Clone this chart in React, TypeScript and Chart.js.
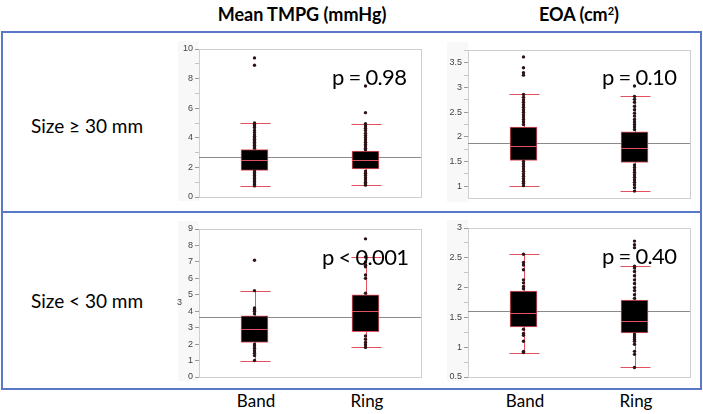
import React, { useEffect, useRef } from 'react';
import { Chart, registerables } from 'chart.js';
Chart.register(...registerables);

const CATEGORIES = ['Band', 'Ring'];

// ---- Mean TMPG (mmHg), Size >= 30 mm ----
const TMPG_L_BOX = [[1.8, 3.2], [1.9, 3.1]];
const TMPG_L_MEDIAN = [2.5, 2.5];
const TMPG_L_WHISKER = [[0.75, 5.0], [0.8, 4.95]];
const TMPG_L_MEAN = 2.67;
const TMPG_L_BAND_PTS = [0.75, 0.85, 0.95, 1.05, 1.15, 1.25, 1.35, 1.45, 1.55, 1.65, 1.75, 3.3, 3.4, 3.5, 3.6, 3.7, 3.8, 3.9, 4.0, 4.1, 4.2, 4.35, 4.5, 4.7, 4.8, 4.9, 5.0, 8.9, 9.4];
const TMPG_L_RING_PTS = [0.8, 0.9, 1.0, 1.15, 1.3, 1.45, 1.6, 1.75, 3.2, 3.3, 3.45, 3.55, 3.7, 3.85, 4.0, 4.15, 4.3, 4.5, 4.65, 4.8, 4.95, 5.7, 7.5];
const TMPG_L_TICKS = [0, 1, 2, 3, 4, 5, 6, 7, 8, 9, 10];
const TMPG_L_LABELS = [0, 2, 4, 6, 8, 10];

// ---- EOA (cm2), Size >= 30 mm ----
const EOA_L_BOX = [[1.52, 2.2], [1.48, 2.1]];
const EOA_L_MEDIAN = [1.81, 1.77];
const EOA_L_WHISKER = [[1.01, 2.86], [0.9, 2.82]];
const EOA_L_MEAN = 1.88;
const EOA_L_BAND_PTS = [1.01, 1.06, 1.1, 1.15, 1.2, 1.25, 1.3, 1.35, 1.4, 1.45, 1.5, 2.25, 2.3, 2.35, 2.4, 2.45, 2.5, 2.55, 2.6, 2.65, 2.7, 2.75, 2.8, 2.86, 3.25, 3.3, 3.4, 3.62];
const EOA_L_RING_PTS = [0.9, 0.97, 1.03, 1.08, 1.13, 1.18, 1.23, 1.28, 1.33, 1.38, 1.43, 2.15, 2.2, 2.25, 2.3, 2.35, 2.42, 2.48, 2.55, 2.62, 2.7, 2.76, 2.82, 3.03];
const EOA_L_TICKS = [1, 1.25, 1.5, 1.75, 2, 2.25, 2.5, 2.75, 3, 3.25, 3.5, 3.75];
const EOA_L_LABELS = [1, 1.5, 2, 2.5, 3, 3.5];

// ---- Mean TMPG (mmHg), Size < 30 mm ----
const TMPG_S_BOX = [[2.1, 3.72], [2.75, 5.0]];
const TMPG_S_MEDIAN = [2.9, 4.02];
const TMPG_S_WHISKER = [[1.0, 5.25], [1.8, 7.3]];
const TMPG_S_MEAN = 3.65;
const TMPG_S_BAND_PTS = [1.0, 1.3, 1.45, 1.6, 1.75, 1.9, 2.0, 3.85, 4.0, 4.1, 4.2, 5.25, 7.1];
const TMPG_S_RING_PTS = [1.8, 1.95, 2.1, 2.3, 2.5, 5.1, 6.0, 6.2, 6.7, 6.8, 7.0, 7.3, 8.4];
const TMPG_S_TICKS = [0, 1, 2, 3, 4, 5, 6, 7, 8, 9];
const TMPG_S_LABELS = [0, 1, 2, 3, 4, 5, 6, 7, 8, 9];

// ---- EOA (cm2), Size < 30 mm ----
const EOA_S_BOX = [[1.34, 1.94], [1.24, 1.79]];
const EOA_S_MEDIAN = [1.58, 1.44];
const EOA_S_WHISKER = [[0.91, 2.56], [0.66, 2.36]];
const EOA_S_MEAN = 1.6;
const EOA_S_BAND_PTS = [0.91, 0.93, 1.1, 1.2, 1.23, 1.3, 1.98, 2.02, 2.08, 2.13, 2.3, 2.38, 2.42, 2.56];
const EOA_S_RING_PTS = [0.66, 0.88, 0.93, 1.05, 1.1, 1.13, 1.16, 1.19, 1.22, 1.82, 1.88, 1.95, 2.0, 2.07, 2.13, 2.2, 2.27, 2.33, 2.36, 2.67, 2.72, 2.78];
const EOA_S_TICKS = [0.5, 0.75, 1, 1.25, 1.5, 1.75, 2, 2.25, 2.5, 2.75, 3];
const EOA_S_LABELS = [0.5, 1, 1.5, 2, 2.5, 3];

const RED = '#e4505e';
const DOT = '#2b1418';
const BLUE = '#5a78c8';

type PanelProps = {
  canvasRect: number[]; // x, y, w, h
  plotRect: number[]; // left, top, right, bottom
  yMin: number;
  yMax: number;
  ticks: number[];
  labels: number[];
  box: number[][];
  median: number[];
  whisker: number[][];
  mean: number;
  bandPts: number[];
  ringPts: number[];
};

function Panel(p: PanelProps) {
  const ref = useRef<HTMLCanvasElement>(null);
  const [cx, cy, cw, ch] = p.canvasRect;
  const [pl, pt, pr, pb] = p.plotRect;
  useEffect(() => {
    if (!ref.current) return;
    const extras = {
      id: 'boxExtras',
      beforeDraw(chart: any) {
        const ctx = chart.ctx;
        const a = chart.chartArea;
        ctx.save();
        ctx.fillStyle = '#f8f8f8';
        ctx.fillRect(a.left - 21, a.top - 8, 21, chart.height - a.top + 8);
        ctx.restore();
      },
      beforeDatasetsDraw(chart: any) {
        const ctx = chart.ctx;
        const a = chart.chartArea;
        const xs = chart.scales.x;
        const ys = chart.scales.y;
        ctx.save();
        ctx.strokeStyle = '#cfcfcf';
        ctx.lineWidth = 1;
        ctx.strokeRect(Math.round(a.left) + 0.5, Math.round(a.top) + 0.5, Math.round(a.right - a.left), Math.round(a.bottom - a.top));
        const my = Math.round(ys.getPixelForValue(p.mean)) + 0.5;
        ctx.strokeStyle = '#8a8a8a';
        ctx.beginPath();
        ctx.moveTo(a.left, my);
        ctx.lineTo(a.right, my);
        ctx.stroke();
        ctx.strokeStyle = RED;
        p.whisker.forEach((w, i) => {
          const x = Math.round(xs.getPixelForValue(i)) + 0.5;
          const y0 = ys.getPixelForValue(w[0]);
          const y1 = ys.getPixelForValue(w[1]);
          ctx.beginPath();
          ctx.moveTo(x, y0);
          ctx.lineTo(x, y1);
          ctx.stroke();
          [y0, y1].forEach((y) => {
            const yy = Math.round(y) + 0.5;
            ctx.beginPath();
            ctx.moveTo(x - 15, yy);
            ctx.lineTo(x + 15, yy);
            ctx.stroke();
          });
        });
        ctx.restore();
      },
      afterDatasetsDraw(chart: any) {
        const ctx = chart.ctx;
        const xs = chart.scales.x;
        const ys = chart.scales.y;
        ctx.save();
        ctx.strokeStyle = RED;
        ctx.lineWidth = 1;
        p.median.forEach((m, i) => {
          const x = xs.getPixelForValue(i);
          const y = Math.round(ys.getPixelForValue(m)) + 0.5;
          ctx.beginPath();
          ctx.moveTo(x - 13.5, y);
          ctx.lineTo(x + 13.5, y);
          ctx.stroke();
        });
        ctx.restore();
      },
    };
    const pts = p.bandPts.map((v) => ({ x: 'Band', y: v })).concat(p.ringPts.map((v) => ({ x: 'Ring', y: v })));
    const chart = new Chart(ref.current, {
      type: 'bar',
      data: {
        labels: CATEGORIES,
        datasets: [
          {
            type: 'line',
            data: pts as any,
            showLine: false,
            pointRadius: 1.7,
            pointBackgroundColor: DOT,
            pointBorderWidth: 0,
            order: 0,
          } as any,
          {
            type: 'bar',
            data: p.box as any,
            backgroundColor: '#000000',
            borderColor: RED,
            borderWidth: 1,
            borderSkipped: false,
            barThickness: 27,
            order: 1,
          } as any,
        ],
      },
      options: {
        responsive: false,
        animation: false,
        layout: { padding: { top: pt - cy, right: cx + cw - pr, bottom: cy + ch - pb, left: 0 } },
        plugins: { legend: { display: false }, tooltip: { enabled: false } },
        scales: {
          x: { display: false, offset: true },
          y: {
            min: p.yMin,
            max: p.yMax,
            afterFit(s: any) {
              s.width = pl - cx;
              s.paddingTop = 0;
              s.paddingBottom = 0;
            },
            afterBuildTicks(s: any) {
              s.ticks = p.ticks.map((v) => ({ value: v }));
            },
            ticks: {
              autoSkip: false,
              padding: 2,
              color: '#444',
              font: { family: 'Liberation Sans', size: 9 },
              callback: (v: any) => (p.labels.includes(v) ? String(v) : ''),
            },
            grid: {
              drawOnChartArea: false,
              tickLength: 4,
              tickColor: (c: any) => (c.tick && p.labels.includes(c.tick.value) ? '#9a9a9a' : '#c4c4c4'),
            },
            border: { color: '#cfcfcf' },
          },
        },
      } as any,
      plugins: [extras as any],
    });
    return () => chart.destroy();
  }, []);
  return (
    <canvas
      ref={ref}
      width={cw}
      height={ch}
      style={{ position: 'absolute', left: cx, top: cy, width: cw, height: ch }}
    />
  );
}

const txt = (s: React.CSSProperties): React.CSSProperties => ({
  position: 'absolute',
  whiteSpace: 'nowrap',
  fontFamily: 'Lato, "Open Sans", sans-serif',
  color: '#000',
  lineHeight: 1,
  ...s,
});

export default function App() {
  return (
    <div style={{ position: 'absolute', left: 0, top: 0, width: 703, height: 414, background: '#fff', overflow: 'hidden' }}>
      <div style={txt({ left: 302, top: 5, transform: 'translateX(-50%)', fontSize: 18, fontWeight: 700 })}>Mean TMPG (mmHg)</div>
      <div style={txt({ left: 579, top: 5, transform: 'translateX(-50%)', fontSize: 18, fontWeight: 700 })}>
        EOA (cm<sup style={{ fontSize: 11, verticalAlign: 6 }}>2</sup>)
      </div>

      <div style={{ position: 'absolute', left: 1, top: 31, width: 697, height: 355, border: `2px solid ${BLUE}` }} />
      <div style={{ position: 'absolute', left: 1, top: 211, width: 701, height: 2, background: BLUE }} />

      <div style={txt({ left: 31, top: 116, fontSize: 19 })}>Size ≥ 30 mm</div>
      <div style={txt({ left: 31, top: 291, fontSize: 19 })}>Size &lt; 30 mm</div>

      <Panel
        canvasRect={[165, 38, 260, 163]}
        plotRect={[199, 49, 421, 198]}
        yMin={0}
        yMax={10}
        ticks={TMPG_L_TICKS}
        labels={TMPG_L_LABELS}
        box={TMPG_L_BOX}
        median={TMPG_L_MEDIAN}
        whisker={TMPG_L_WHISKER}
        mean={TMPG_L_MEAN}
        bandPts={TMPG_L_BAND_PTS}
        ringPts={TMPG_L_RING_PTS}
      />
      <Panel
        canvasRect={[430, 38, 264, 164]}
        plotRect={[468, 50, 690, 199]}
        yMin={0.76}
        yMax={3.76}
        ticks={EOA_L_TICKS}
        labels={EOA_L_LABELS}
        box={EOA_L_BOX}
        median={EOA_L_MEDIAN}
        whisker={EOA_L_WHISKER}
        mean={EOA_L_MEAN}
        bandPts={EOA_L_BAND_PTS}
        ringPts={EOA_L_RING_PTS}
      />
      <Panel
        canvasRect={[165, 218, 260, 163]}
        plotRect={[199, 229, 421, 378]}
        yMin={0}
        yMax={9}
        ticks={TMPG_S_TICKS}
        labels={TMPG_S_LABELS}
        box={TMPG_S_BOX}
        median={TMPG_S_MEDIAN}
        whisker={TMPG_S_WHISKER}
        mean={TMPG_S_MEAN}
        bandPts={TMPG_S_BAND_PTS}
        ringPts={TMPG_S_RING_PTS}
      />
      <Panel
        canvasRect={[430, 218, 264, 163]}
        plotRect={[468, 228, 690, 378]}
        yMin={0.5}
        yMax={3}
        ticks={EOA_S_TICKS}
        labels={EOA_S_LABELS}
        box={EOA_S_BOX}
        median={EOA_S_MEDIAN}
        whisker={EOA_S_WHISKER}
        mean={EOA_S_MEAN}
        bandPts={EOA_S_BAND_PTS}
        ringPts={EOA_S_RING_PTS}
      />

      <div style={txt({ left: 177, top: 298, fontSize: 9, fontFamily: 'Liberation Sans', color: '#444' })}>3</div>

      <div style={txt({ left: 332, top: 66, fontSize: 22, letterSpacing: -0.7 })}>p = 0.98</div>
      <div style={txt({ left: 602, top: 66, fontSize: 22, letterSpacing: -0.7 })}>p = 0.10</div>
      <div style={txt({ left: 322, top: 246, fontSize: 22, letterSpacing: -0.7 })}>p &lt; 0.001</div>
      <div style={txt({ left: 602, top: 245, fontSize: 22, letterSpacing: -0.7 })}>p = 0.40</div>

      <div style={txt({ left: 256, top: 392, transform: 'translateX(-50%)', fontSize: 17 })}>Band</div>
      <div style={txt({ left: 367, top: 392, transform: 'translateX(-50%)', fontSize: 17 })}>Ring</div>
      <div style={txt({ left: 525, top: 392, transform: 'translateX(-50%)', fontSize: 17 })}>Band</div>
      <div style={txt({ left: 636, top: 392, transform: 'translateX(-50%)', fontSize: 17 })}>Ring</div>
    </div>
  );
}
